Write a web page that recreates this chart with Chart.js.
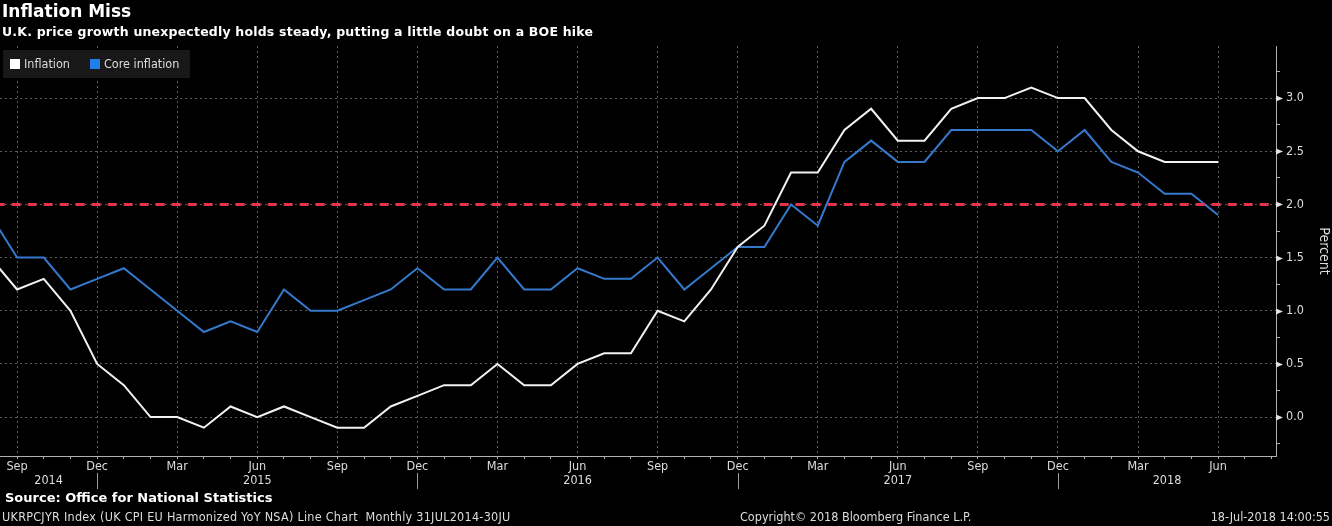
<!DOCTYPE html>
<html>
<head>
<meta charset="utf-8">
<script src="https://cdn.jsdelivr.net/npm/chart.js@4"></script>
<style>
	html, body { margin: 0; padding: 0; background: #000; }
	#wrap { position: relative; width: 1332px; height: 526px; overflow: hidden; background: #000; }
	#chartPreview { position: absolute; left: 0; top: 0; }
	.txt { position: absolute; white-space: nowrap; color: #fff; }
	#title { left: 2px; top: 1px; font: bold 17px 'DejaVu Sans', sans-serif; }
	#subtitle { left: 2px; top: 24px; font: bold 12.5px 'DejaVu Sans', sans-serif; letter-spacing: 0.2px; }
	#legend { position: absolute; left: 3px; top: 50px; width: 187px; height: 28px; background: #181818; font: 12.5px 'Liberation Sans Narrow', 'DejaVu Sans Condensed', sans-serif; color: #ddd; }
	#legend span.box { position: absolute; top: 9px; width: 10px; height: 10px; }
	#legend span.lbl { position: absolute; top: 6px; }
	#source { left: 5px; top: 490px; font: bold 13px 'DejaVu Sans', sans-serif; }
	#footL { left: 2px; top: 509px; font: 12.5px 'Liberation Sans Narrow', 'DejaVu Sans Condensed', sans-serif; color: #ddd; letter-spacing: 0.26px; }
	#footC { left: 740px; top: 509px; font: 12.5px 'Liberation Sans Narrow', 'DejaVu Sans Condensed', sans-serif; color: #ddd; }
	#footR { right: 2px; top: 509px; font: 12.5px 'Liberation Sans Narrow', 'DejaVu Sans Condensed', sans-serif; color: #ddd; }
</style>
</head>
<body>
<div id="wrap">
	<canvas id="chartPreview" width="1332" height="526"></canvas>
	<div class="txt" id="title">Inflation Miss</div>
	<div class="txt" id="subtitle">U.K. price growth unexpectedly holds steady, putting a little doubt on a BOE hike</div>
	<div id="legend">
		<span class="box" style="left:7px;background:#fff"></span><span class="lbl" style="left:21px">Inflation</span>
		<span class="box" style="left:87px;background:#1f7fe6"></span><span class="lbl" style="left:101px">Core inflation</span>
	</div>
	<div class="txt" id="source">Source: Office for National Statistics</div>
	<div class="txt" id="footL">UKRPCJYR Index (UK CPI EU Harmonized YoY NSA) Line Chart&nbsp; Monthly 31JUL2014-30JU</div>
	<div class="txt" id="footC">Copyright© 2018 Bloomberg Finance L.P.</div>
	<div class="txt" id="footR">18-Jul-2018 14:00:55</div>
</div>
<script>
;(function () {
	'use strict';

	// monthly observations, Jul 2014 .. Jun 2018
	const months = [
		'Jul 2014', 'Aug 2014', 'Sep 2014', 'Oct 2014', 'Nov 2014', 'Dec 2014',
		'Jan 2015', 'Feb 2015', 'Mar 2015', 'Apr 2015', 'May 2015', 'Jun 2015',
		'Jul 2015', 'Aug 2015', 'Sep 2015', 'Oct 2015', 'Nov 2015', 'Dec 2015',
		'Jan 2016', 'Feb 2016', 'Mar 2016', 'Apr 2016', 'May 2016', 'Jun 2016',
		'Jul 2016', 'Aug 2016', 'Sep 2016', 'Oct 2016', 'Nov 2016', 'Dec 2016',
		'Jan 2017', 'Feb 2017', 'Mar 2017', 'Apr 2017', 'May 2017', 'Jun 2017',
		'Jul 2017', 'Aug 2017', 'Sep 2017', 'Oct 2017', 'Nov 2017', 'Dec 2017',
		'Jan 2018', 'Feb 2018', 'Mar 2018', 'Apr 2018', 'May 2018', 'Jun 2018'
	];

	const inflation = [
		1.6, 1.5, 1.2, 1.3, 1.0, 0.5,
		0.3, 0.0, 0.0, -0.1, 0.1, 0.0,
		0.1, 0.0, -0.1, -0.1, 0.1, 0.2,
		0.3, 0.3, 0.5, 0.3, 0.3, 0.5,
		0.6, 0.6, 1.0, 0.9, 1.2, 1.6,
		1.8, 2.3, 2.3, 2.7, 2.9, 2.6,
		2.6, 2.9, 3.0, 3.0, 3.1, 3.0,
		3.0, 2.7, 2.5, 2.4, 2.4, 2.4
	];

	const coreInflation = [
		1.8, 1.9, 1.5, 1.5, 1.2, 1.3,
		1.4, 1.2, 1.0, 0.8, 0.9, 0.8,
		1.2, 1.0, 1.0, 1.1, 1.2, 1.4,
		1.2, 1.2, 1.5, 1.2, 1.2, 1.4,
		1.3, 1.3, 1.5, 1.2, 1.4, 1.6,
		1.6, 2.0, 1.8, 2.4, 2.6, 2.4,
		2.4, 2.7, 2.7, 2.7, 2.7, 2.5,
		2.7, 2.4, 2.3, 2.1, 2.1, 1.9
	];

	const target = 2.0;
	const quarterMonths = ['Mar', 'Jun', 'Sep', 'Dec'];
	const years = ['2014', '2015', '2016', '2017', '2018'];
	const yTicks = [0.0, 0.5, 1.0, 1.5, 2.0, 2.5, 3.0];

	const tickFont = { family: "'Liberation Sans Narrow', 'DejaVu Sans Condensed', sans-serif", size: 12.5 };
	const gridColor = '#5c5c5c';
	const axisColor = '#b0b0b0';

	const monthName = function (i) {
		const m = months[Math.round(i)];
		return m ? m.split(' ')[0] : '';
	};
	const isQuarter = function (v) {
		return Number.isInteger(v) && quarterMonths.indexOf(monthName(v)) !== -1;
	};
	const isMajorY = function (v) {
		return yTicks.some(function (t) { return Math.abs(t - v) < 1e-6; });
	};

	const toPoints = function (arr) {
		return arr.map(function (v, i) { return { x: i, y: v }; });
	};

	// year labels under the quarter labels, split at each December
	const yearPlugin = {
		id: 'yearLabels',
		afterDraw: function (chart) {
			const ctx = chart.ctx;
			const xs = chart.scales.x;
			const area = chart.chartArea;
			const seps = [];
			months.forEach(function (m, i) {
				if (m.indexOf('Dec') === 0) seps.push(xs.getPixelForValue(i));
			});
			ctx.save();
			ctx.strokeStyle = '#9a9a9a';
			ctx.lineWidth = 1;
			seps.forEach(function (x) {
				ctx.beginPath();
				ctx.moveTo(Math.round(x) + 0.5, area.bottom + 17);
				ctx.lineTo(Math.round(x) + 0.5, area.bottom + 33);
				ctx.stroke();
			});
			ctx.fillStyle = '#dddddd';
			ctx.font = tickFont.size + 'px ' + tickFont.family;
			ctx.textAlign = 'center';
			ctx.textBaseline = 'middle';
			const bounds = [area.left].concat(seps, [area.right]);
			years.forEach(function (y, i) {
				ctx.fillText(y, (bounds[i] + bounds[i + 1]) / 2, area.bottom + 25);
			});
			ctx.restore();
		}
	};

	// little arrow heads at the labelled y ticks
	const arrowPlugin = {
		id: 'yArrows',
		afterDraw: function (chart) {
			const ctx = chart.ctx;
			const ys = chart.scales.y;
			const x0 = chart.chartArea.right;
			ctx.save();
			ctx.fillStyle = '#e0e0e0';
			yTicks.forEach(function (t) {
				const y = Math.round(ys.getPixelForValue(t)) + 0.5;
				ctx.beginPath();
				ctx.moveTo(x0, y - 3);
				ctx.lineTo(x0 + 7, y);
				ctx.lineTo(x0, y + 3);
				ctx.closePath();
				ctx.fill();
			});
			ctx.restore();
		}
	};

	const handleInitialChart = function () {
		const chart = document.getElementById('chartPreview').getContext('2d');

		new Chart(chart, {
			type: 'line',
			data: {
				datasets: [
					{
						label: 'Target',
						data: [{ x: 0, y: target }, { x: months.length + 2, y: target }],
						borderColor: '#e0354e',
						borderWidth: 3,
						borderDash: [9, 7],
						pointRadius: 0
					},
					{
						label: 'Inflation',
						data: toPoints(inflation),
						borderColor: '#f2f2f2',
						borderWidth: 2,
						pointRadius: 0,
						tension: 0
					},
					{
						label: 'Core inflation',
						data: toPoints(coreInflation),
						borderColor: '#3479cc',
						borderWidth: 2,
						pointRadius: 0,
						tension: 0
					}
				]
			},
			options: {
				responsive: false,
				animation: false,
				events: [],
				layout: {
					padding: { top: 46, left: 0, right: 0, bottom: 0 }
				},
				plugins: {
					legend: { display: false },
					tooltip: { enabled: false }
				},
				scales: {
					x: {
						type: 'linear',
						min: 1.36,
						max: 49.17,
						afterFit: function (scale) { scale.height = 70; },
						border: { color: axisColor, width: 1, dash: [2, 3] },
						grid: {
							color: function (c) { return c.tick && isQuarter(c.tick.value) ? gridColor : 'transparent'; },
							tickColor: axisColor,
							tickLength: 3,
							tickBorderDash: []
						},
						ticks: {
							stepSize: 1,
							autoSkip: false,
							maxRotation: 0,
							includeBounds: false,
							padding: 0,
							color: '#dddddd',
							font: tickFont,
							callback: function (v) { return isQuarter(v) ? monthName(v) : ''; }
						}
					},
					y: {
						position: 'right',
						min: -0.366,
						max: 3.49,
						afterFit: function (scale) { scale.width = 56; },
						border: { color: axisColor, width: 1, dash: [2, 3] },
						grid: {
							color: function (c) { return c.tick && isMajorY(c.tick.value) ? gridColor : 'transparent'; },
							tickColor: function (c) { return c.tick && isMajorY(c.tick.value) ? 'transparent' : axisColor; },
							tickLength: 4,
							tickBorderDash: []
						},
						ticks: {
							stepSize: 0.25,
							includeBounds: false,
							padding: 6,
							color: '#dddddd',
							font: tickFont,
							callback: function (v) { return isMajorY(v) ? v.toFixed(1) : ''; }
						},
						title: {
							display: true,
							text: 'Percent',
							color: '#dddddd',
							font: { family: tickFont.family, size: 14 },
							padding: { top: 0, bottom: 0 }
						}
					}
				}
			},
			plugins: [yearPlugin, arrowPlugin]
		});
	};

	handleInitialChart();
})();
</script>
</body>
</html>
